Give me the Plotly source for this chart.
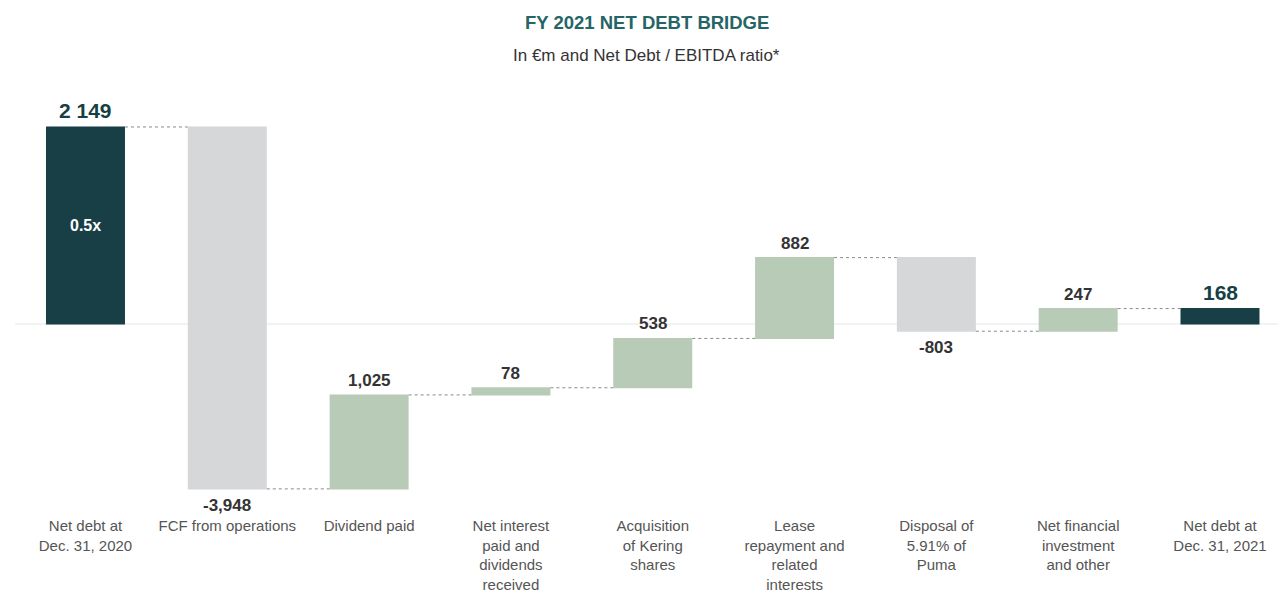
import plotly.graph_objects as go

# Net debt bridge FY 2021, in EUR m
categories = [
    "Net debt at<br>Dec. 31, 2020",
    "FCF from operations",
    "Dividend paid",
    "Net interest<br>paid and<br>dividends<br>received",
    "Acquisition<br>of Kering<br>shares",
    "Lease<br>repayment and<br>related<br>interests",
    "Disposal of<br>5.91% of<br>Puma",
    "Net financial<br>investment<br>and other",
    "Net debt at<br>Dec. 31, 2021",
]
values = [2149, -3948, 1025, 78, 538, 882, -803, 247, 168]
measures = ["absolute", "relative", "relative", "relative", "relative",
            "relative", "relative", "relative", "total"]
value_labels = ["2 149", "-3,948", "1,025", "78", "538", "882", "-803", "247", "168"]
ratio_label = "0.5x"

DARK = "#173f45"
GREEN = "#b7cbb7"
GREY = "#d6d7d9"
FONT = "Liberation Sans, Arial, sans-serif"

fig = go.Figure()
fig.add_trace(go.Waterfall(
    x=list(range(len(values))),
    y=values,
    measure=measures,
    width=0.557,
    increasing=dict(marker=dict(color=GREEN)),
    decreasing=dict(marker=dict(color=GREY)),
    totals=dict(marker=dict(color=DARK)),
    connector=dict(line=dict(color="#8a8a8a", width=1, dash="dot")),
    hoverinfo="skip",
))

# running level for label placement
annotations = []
level = 0
for i, (v, m, lab) in enumerate(zip(values, measures, value_labels)):
    if m == "absolute":
        start, end = 0, v
        level = v
    elif m == "total":
        start, end = 0, level
    else:
        start, end = level, level + v
        level = end
    top = max(start, end)
    bot = min(start, end)
    is_total = m != "relative"
    color = DARK if is_total else "#333333"
    size = 21 if is_total else 17
    if v >= 0:
        annotations.append(dict(x=i, y=top, text=f"<b>{lab}</b>", showarrow=False,
                                yanchor="bottom", yshift=3,
                                font=dict(family=FONT, size=size, color=color)))
    else:
        annotations.append(dict(x=i, y=bot, text=f"<b>{lab}</b>", showarrow=False,
                                yanchor="top", yshift=-5,
                                font=dict(family=FONT, size=size, color=color)))

annotations.append(dict(x=0, y=values[0] / 2, text=f"<b>{ratio_label}</b>", showarrow=False,
                        font=dict(family=FONT, size=16, color="white")))

annotations.append(dict(xref="paper", yref="paper", x=0.5, y=1, yshift=63,
                        text="<b>FY 2021 NET DEBT BRIDGE</b>", showarrow=False,
                        xanchor="center", yanchor="middle",
                        font=dict(family=FONT, size=18.5, color="#256565")))
annotations.append(dict(xref="paper", yref="paper", x=0.5, y=1, yshift=30,
                        text="In €m and Net Debt / EBITDA ratio*", showarrow=False,
                        xanchor="center", yanchor="middle",
                        font=dict(family=FONT, size=17, color="#333333")))

fig.update_layout(
    width=1278, height=591,
    margin=dict(l=15, r=0, t=85, b=76),
    paper_bgcolor="white", plot_bgcolor="white",
    showlegend=False,
    annotations=annotations,
    shapes=[dict(type="line", xref="paper", yref="y", x0=0, x1=1, y0=0, y1=0,
                 line=dict(color="#e6e6e6", width=1), layer="below")],
    xaxis=dict(
        range=[-0.497, 8.409],
        tickmode="array", tickvals=list(range(len(categories))), ticktext=categories,
        showgrid=False, zeroline=False, showline=False, ticks="",
        automargin=False,
        tickfont=dict(family=FONT, size=15, color="#555555"),
        fixedrange=True,
    ),
    yaxis=dict(range=[-2084, 2607], visible=False, showgrid=False, zeroline=False,
               automargin=False, fixedrange=True),
)

fig.write_html("out.html")
